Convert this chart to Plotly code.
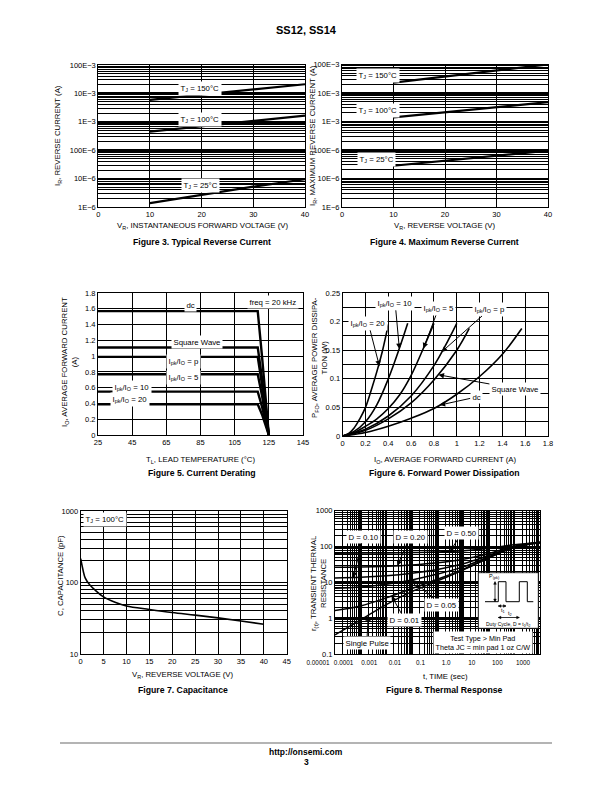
import plotly.graph_objects as go

W, H = 612, 792
FONT = "Liberation Sans, Arial, Helvetica, sans-serif"
OFF = 8  # page body margin of the browser


def fx(x):
    return (x - OFF) / W


def fy(y):
    return 1 - (y - OFF) / H


# ---------------- data ----------------
# Figure 3 - typical reverse current
f3_vr = [10, 20, 30, 40]
f3_ir_150 = [5.9e-3, 9.0e-3, 13.8e-3, 21e-3]
f3_ir_100 = [0.45e-3, 0.69e-3, 1.07e-3, 1.65e-3]
f3_ir_25 = [1.36e-6, 2.7e-6, 5.2e-6, 9.5e-6]
ir_tickvals = [1e-6, 1e-5, 1e-4, 1e-3, 1e-2, 1e-1]
ir_ticktext = ["1E−6", "10E−6", "100E−6", "1E−3", "10E−3", "100E−3"]
vr_ticks = [0, 10, 20, 30, 40]

# Figure 4 - maximum reverse current
f4_vr = [10, 20, 30, 40]
f4_ir_150 = [23e-3, 38e-3, 62e-3, 100e-3]
f4_ir_100 = [1.4e-3, 2.1e-3, 3.2e-3, 4.8e-3]
f4_ir_25 = [28e-6, 42e-6, 63e-6, 95e-6]

# Figure 5 - current derating
f5_tl = [25, 118.5, 121, 123, 125]
f5_dc = [1.57, 1.57, 1.0, 0.5, 0]
f5_square = [1.11, 1.11, 0.72, 0.37, 0]
f5_pi = [0.99, 0.99, 0.64, 0.33, 0]
f5_r5 = [0.77, 0.77, 0.50, 0.26, 0]
f5_r10 = [0.55, 0.55, 0.36, 0.19, 0]
f5_r20 = [0.39, 0.39, 0.26, 0.13, 0]
f5_xticks = [25, 45, 65, 85, 105, 125, 145]
f5_yticks = [0, 0.2, 0.4, 0.6, 0.8, 1, 1.2, 1.4, 1.6, 1.8]
f5_yticktext = ["0", "0.2", "0.4", "0.6", "0.8", "1", "1.2", "1.4", "1.6", "1.8"]

# Figure 6 - forward power dissipation
f6_io_20 = [0, 0.05, 0.1, 0.15, 0.2, 0.25, 0.3, 0.35, 0.4]
f6_p_20 = [0, 0.004, 0.014, 0.03, 0.05, 0.08, 0.113, 0.15, 0.195]
f6_io_10 = [0, 0.1, 0.2, 0.3, 0.4, 0.5, 0.57]
f6_p_10 = [0, 0.008, 0.025, 0.055, 0.1, 0.155, 0.197]
f6_io_5 = [0, 0.1, 0.2, 0.3, 0.4, 0.5, 0.6, 0.7, 0.8]
f6_p_5 = [0, 0.006, 0.017, 0.03, 0.048, 0.072, 0.106, 0.15, 0.197]
f6_io_pi = [0, 0.2, 0.4, 0.6, 0.8, 0.9, 1.0]
f6_p_pi = [0, 0.012, 0.035, 0.07, 0.123, 0.158, 0.197]
f6_io_sq = [0, 0.2, 0.4, 0.6, 0.8, 1.0, 1.11]
f6_p_sq = [0, 0.01, 0.03, 0.058, 0.098, 0.15, 0.188]
f6_io_dc = [0, 0.2, 0.4, 0.6, 0.8, 1.0, 1.2, 1.4, 1.57]
f6_p_dc = [0, 0.006, 0.017, 0.031, 0.048, 0.073, 0.104, 0.143, 0.188]
f6_xticks = [0, 0.2, 0.4, 0.6, 0.8, 1, 1.2, 1.4, 1.6, 1.8]
f6_xticktext = ["0", "0.2", "0.4", "0.6", "0.8", "1", "1.2", "1.4", "1.6", "1.8"]
f6_yticks = [0, 0.05, 0.1, 0.15, 0.2, 0.25]
f6_yticktext = ["0", "0.05", "0.1", "0.15", "0.2", "0.25"]

# Figure 7 - capacitance
f7_vr = [0, 0.5, 1, 2, 3, 5, 7.5, 10, 15, 20, 25, 30, 35, 40]
f7_c = [215, 150, 115, 92, 80, 63, 53, 47, 42, 38, 35, 32, 29, 26]
f7_xticks = [0, 5, 10, 15, 20, 25, 30, 35, 40, 45]
f7_yticks = [10, 100, 1000]

# Figure 8 - thermal response
f8_t = [1e-5, 1e-4, 1e-3, 1e-2, 1e-1, 1, 10, 100, 1000]
f8_single = [0.34, 0.9, 2.4, 5.5, 11, 22, 48, 95, 128]
f8_d01 = [1.64, 2.2, 3.7, 6.7, 12.2, 23, 49, 95, 128]
f8_d05 = [6.8, 7.4, 8.8, 11.7, 17, 27, 52, 97, 129]
f8_d10 = [13.3, 13.8, 15.2, 18, 23, 33, 56, 99, 130]
f8_d20 = [26.3, 26.7, 28, 30.4, 35, 44, 64, 102, 131]
f8_d50 = [65, 65.5, 66, 68, 70.5, 76, 89, 112, 132]
f8_xticks = [1e-5, 1e-4, 1e-3, 1e-2, 1e-1, 1, 10, 100, 1000]
f8_xticktext = ["0.00001", "0.0001", "0.001", "0.01", "0.1", "1.0", "10", "100", "1000"]
f8_yticks = [0.1, 1, 10, 100, 1000]
f8_yticktext = ["0.1", "1", "10", "100", "1000"]


def log_minor(lo, hi):
    return [m * 10.0 ** e for e in range(lo, hi) for m in range(2, 10)]


fig = go.Figure()


def add_line(x, y, n, width=2.0, shape="linear"):
    xa = "x" if n == 1 else "x%d" % n
    ya = "y" if n == 1 else "y%d" % n
    fig.add_trace(go.Scatter(x=x, y=y, mode="lines", xaxis=xa, yaxis=ya,
                             line=dict(color="black", width=width, shape=shape),
                             hoverinfo="skip", showlegend=False))


for ys in (f3_ir_150, f3_ir_100, f3_ir_25):
    add_line(f3_vr, ys, 1, 2.2)
for ys in (f4_ir_150, f4_ir_100, f4_ir_25):
    add_line(f4_vr, ys, 2, 2.2)
for ys in (f5_dc, f5_square, f5_pi, f5_r5, f5_r10, f5_r20):
    add_line(f5_tl, ys, 3, 2.4)
for xs, ys in ((f6_io_20, f6_p_20), (f6_io_10, f6_p_10), (f6_io_5, f6_p_5),
               (f6_io_pi, f6_p_pi), (f6_io_sq, f6_p_sq), (f6_io_dc, f6_p_dc)):
    add_line(xs, ys, 4, 1.6, "spline")
add_line(f7_vr, f7_c, 5, 1.6, "spline")
for ys in (f8_single, f8_d01, f8_d05, f8_d10, f8_d20, f8_d50):
    add_line(f8_t, ys, 6, 1.5, "spline")


def axis(**kw):
    d = dict(showline=True, linecolor="black", linewidth=1, mirror=True, ticks="",
             showgrid=True, gridcolor="black", gridwidth=1, zeroline=False,
             tickfont=dict(family=FONT, size=7.5, color="black"), fixedrange=True,
             layer="below traces", automargin=False, tickangle=0)
    d.update(kw)
    return d


def minor_log(lo, hi, w=1):
    return dict(tickmode="array", tickvals=log_minor(lo, hi), showgrid=True,
                gridcolor="black", gridwidth=w, ticks="")


fig.update_layout(
    width=W, height=H, margin=dict(l=0, r=0, t=0, b=0, pad=0, autoexpand=False),
    paper_bgcolor="white", plot_bgcolor="white", showlegend=False,
    font=dict(family=FONT, color="black"),
    xaxis=axis(domain=[fx(98.3), fx(305)], range=[0, 40], tickmode="array",
               tickvals=vr_ticks, anchor="y"),
    yaxis=axis(domain=[fy(207), fy(65)], type="log", range=[-6, -1], tickmode="array",
               tickvals=ir_tickvals, ticktext=ir_ticktext, gridwidth=2.2,
               minor=minor_log(-6, -1), anchor="x"),
    xaxis2=axis(domain=[fx(342), fx(548)], range=[0, 40], tickmode="array",
                tickvals=vr_ticks, anchor="y2"),
    yaxis2=axis(domain=[fy(207), fy(64.5)], type="log", range=[-6, -1], tickmode="array",
                tickvals=ir_tickvals, ticktext=ir_ticktext, gridwidth=2.2,
                minor=minor_log(-6, -1), anchor="x2"),
    xaxis3=axis(domain=[fx(98), fx(303)], range=[25, 145], tickmode="array",
                tickvals=f5_xticks, anchor="y3"),
    yaxis3=axis(domain=[fy(435), fy(293)], range=[0, 1.8], tickmode="array",
                tickvals=f5_yticks, ticktext=f5_yticktext, anchor="x3"),
    xaxis4=axis(domain=[fx(342.7), fx(548)], range=[0, 1.8], tickmode="array",
                tickvals=f6_xticks, ticktext=f6_xticktext, anchor="y4"),
    yaxis4=axis(domain=[fy(436), fy(293)], range=[0, 0.25], tickmode="array",
                tickvals=f6_yticks, ticktext=f6_yticktext, anchor="x4",
                minor=dict(tick0=0, dtick=0.025, showgrid=True, gridcolor="black",
                           gridwidth=1, ticks="")),
    xaxis5=axis(domain=[fx(80.7), fx(286.7)], range=[0, 45], tickmode="array",
                tickvals=f7_xticks, anchor="y5"),
    yaxis5=axis(domain=[fy(654), fy(511)], type="log", range=[1, 3], tickmode="array",
                tickvals=f7_yticks, anchor="x5", minor=minor_log(1, 3)),
    xaxis6=axis(domain=[fx(335), fx(540)], type="log", range=[-5, 3], tickmode="array",
                tickvals=f8_xticks, ticktext=f8_xticktext, gridwidth=2.2,
                tickfont=dict(family=FONT, size=6.4, color="black"),
                ticklabelshift=-17, ticklabelstandoff=2,
                minor=minor_log(-5, 3), anchor="y6"),
    yaxis6=axis(domain=[fy(654), fy(510.7)], type="log", range=[-1, 3], tickmode="array",
                tickvals=f8_yticks, ticktext=f8_yticktext, gridwidth=2.2,
                minor=minor_log(-1, 3), anchor="x6"),
)

ann = []
shapes = []


def ptext(text, x, y, size=7.8, bold=False, angle=0):
    ann.append(dict(text=("<b>%s</b>" % text) if bold else text, x=fx(x), y=fy(y),
                    xref="paper", yref="paper", showarrow=False, textangle=angle,
                    xanchor="center", yanchor="middle",
                    font=dict(family=FONT, size=size, color="black")))


def dlabel(text, n, x, y, size=7.8, bg="white", hx=None, hy=None):
    xr = "x" if n == 1 else "x%d" % n
    yr = "y" if n == 1 else "y%d" % n
    a = dict(text=text, xref=xr, yref=yr, font=dict(family=FONT, size=size, color="black"),
             bgcolor=bg, borderpad=1.5, xanchor="center", yanchor="middle")
    if hx is None:
        a.update(x=x, y=y, showarrow=False)
    else:
        a.update(x=hx, y=hy, ax=x, ay=y, axref=xr, ayref=yr, showarrow=True,
                 arrowhead=2, arrowsize=1.1, arrowwidth=1, arrowcolor="black", standoff=0)
    ann.append(a)


# header / footer
ptext("SS12, SS14", 306, 30, size=11, bold=True)
ptext("http://onsemi.com", 306, 752, size=8.5, bold=True)
ptext("3", 306, 762, size=8.5, bold=True)
shapes.append(dict(type="line", xref="paper", yref="paper", x0=fx(60), x1=fx(552),
                   y0=fy(743), y1=fy(743), line=dict(color="#b4b4b4", width=2)))

# captions
ptext("Figure 3. Typical Reverse Current", 202, 242, size=8.7, bold=True)
ptext("Figure 4. Maximum Reverse Current", 444, 242, size=8.7, bold=True)
ptext("Figure 5. Current Derating", 202, 473, size=8.7, bold=True)
ptext("Figure 6. Forward Power Dissipation", 444, 473, size=8.7, bold=True)
ptext("Figure 7. Capacitance", 183, 690, size=8.7, bold=True)
ptext("Figure 8. Thermal Response", 444, 690, size=8.7, bold=True)

# axis titles
ptext("I<sub>R</sub>, REVERSE CURRENT (A)", 58, 136, angle=-90)
ptext("V<sub>R</sub>, INSTANTANEOUS FORWARD VOLTAGE (V)", 202, 226)
ptext("I<sub>R</sub>, MAXIMUM REVERSE CURRENT (A)", 313, 136, angle=-90)
ptext("V<sub>R</sub>, REVERSE VOLTAGE (V)", 445, 226)
ptext("I<sub>O</sub>, AVERAGE FORWARD CURRENT<br>(A)", 69, 362, angle=-90)
ptext("T<sub>L</sub>, LEAD TEMPERATURE (°C)", 200, 460)
ptext("P<sub>FO</sub>, AVERAGE POWER DISSIPA-<br>TION (W)", 319, 358, angle=-90)
ptext("I<sub>O</sub>, AVERAGE FORWARD CURRENT (A)", 445, 460)
ptext("C, CAPACITANCE (pF)", 60, 576, angle=-90)
ptext("V<sub>R</sub>, REVERSE VOLTAGE (V)", 183, 675)
ptext("r<sub>(t)</sub>, TRANSIENT THERMAL<br>RESISTANCE", 318, 583, angle=-90)
ptext("t, TIME (sec)", 445, 676)

# figure 3 labels
dlabel("T<sub>J</sub> = 150°C", 1, 19.7, -1.82)
dlabel("T<sub>J</sub> = 100°C", 1, 19.7, -2.91)
dlabel("T<sub>J</sub> = 25°C", 1, 19.7, -5.26)
# figure 4 labels
dlabel("T<sub>J</sub> = 150°C", 2, 7.0, -1.37)
dlabel("T<sub>J</sub> = 100°C", 2, 7.0, -2.63)
dlabel("T<sub>J</sub> = 25°C", 2, 6.7, -4.33)
# figure 5 labels
dlabel("dc", 3, 79, 1.648)
dlabel("freq = 20 kHz", 3, 127.6, 1.69)
dlabel("Square Wave", 3, 82.8, 1.175)
dlabel("I<sub>pk</sub>/I<sub>O</sub> = p", 3, 75, 0.93)
dlabel("I<sub>pk</sub>/I<sub>O</sub> = 5", 3, 75, 0.726)
dlabel("I<sub>pk</sub>/I<sub>O</sub> = 10", 3, 44.7, 0.604)
dlabel("I<sub>pk</sub>/I<sub>O</sub> = 20", 3, 43.7, 0.452)
# figure 6 labels with arrows
dlabel("I<sub>pk</sub>/I<sub>O</sub> = 20", 4, 0.225, 0.197, hx=0.322, hy=0.122)
dlabel("I<sub>pk</sub>/I<sub>O</sub> = 10", 4, 0.46, 0.232, hx=0.497, hy=0.152)
dlabel("I<sub>pk</sub>/I<sub>O</sub> = 5", 4, 0.84, 0.223, hx=0.708, hy=0.153)
dlabel("I<sub>pk</sub>/I<sub>O</sub> = p", 4, 1.29, 0.222, hx=0.868, hy=0.147)
dlabel("Square Wave", 4, 1.51, 0.083, hx=0.84, hy=0.107)
dlabel("dc", 4, 1.17, 0.068, hx=0.85, hy=0.054)
# figure 7 label
dlabel("T<sub>J</sub> = 100°C", 5, 5.3, 2.88)
# figure 8 labels
dlabel("D = 0.10", 6, -3.9, 2.27, hx=-4.29, hy=1.13)
dlabel("D = 0.20", 6, -2.07, 2.27, hx=-2.57, hy=1.46)
dlabel("D = 0.50", 6, -0.06, 2.37, hx=-0.51, hy=1.86)
dlabel("D = 0.05", 6, -0.84, 0.37, hx=-2.0, hy=1.07)
dlabel("D = 0.01", 6, -2.27, -0.05, hx=-2.79, hy=0.62)
dlabel("Single Pulse", 6, -3.76, -0.68, hx=-3.7, hy=0.08)
dlabel("Test Type &gt; Min Pad<br>Theta JC = min pad 1 oz C/W", 6, 0.79, -0.68, size=7.2)

# figure 8 inset diagram (paper coordinates)
shapes.append(dict(type="rect", xref="paper", yref="paper", x0=fx(478.3), x1=fx(538.3),
                   y0=fy(628.3), y1=fy(572.7), fillcolor="white",
                   line=dict(color="black", width=0.8), layer="above"))
pulse = [(485, 601.7), (498.3, 601.7), (498.3, 581.7), (506, 581.7), (506, 601.7),
         (519.3, 601.7), (519.3, 581.7), (527.3, 581.7), (527.3, 601.7), (533.3, 601.7)]
path = "M " + " L ".join("%f,%f" % (fx(a), fy(b)) for a, b in pulse)
shapes.append(dict(type="path", xref="paper", yref="paper", path=path,
                   line=dict(color="black", width=1), layer="above"))


def arrow(x0, y0, x1, y1, both=True):
    shapes.append(dict(type="line", xref="paper", yref="paper", x0=fx(x0), y0=fy(y0),
                       x1=fx(x1), y1=fy(y1), line=dict(color="black", width=0.8),
                       layer="above"))

    def head(tx, ty, dx, dy):
        s = 2.6
        px_, py_ = -dy, dx
        pts = [(tx, ty), (tx - dx * s + px_ * s * 0.5, ty - dy * s + py_ * s * 0.5),
               (tx - dx * s - px_ * s * 0.5, ty - dy * s - py_ * s * 0.5)]
        shapes.append(dict(type="path", xref="paper", yref="paper",
                           path="M " + " L ".join("%f,%f" % (fx(a), fy(b)) for a, b in pts) + " Z",
                           fillcolor="black", line=dict(color="black", width=0.5),
                           layer="above"))
    L = ((x1 - x0) ** 2 + (y1 - y0) ** 2) ** 0.5
    ux, uy = (x1 - x0) / L, (y1 - y0) / L
    head(x1, y1, ux, uy)
    if both:
        head(x0, y0, -ux, -uy)


arrow(495, 581.7, 495, 601.7)
arrow(498.3, 606, 506, 606)
arrow(498.3, 617.5, 519.3, 617.5)


def ptext_small(text, x, y, size):
    ann.append(dict(text=text, x=fx(x), y=fy(y), xref="paper", yref="paper",
                    showarrow=False, xanchor="center", yanchor="middle",
                    font=dict(family=FONT, size=size, color="black")))


ptext_small("P<sub>(pk)</sub>", 494, 576.5, 5.5)
ptext_small("t<sub>1</sub>", 502.5, 610, 5.5)
ptext_small("t<sub>2</sub>", 509.5, 613.5, 5.5)
ptext_small("Duty Cycle, D = t<sub>1</sub>/t<sub>2</sub>", 508.3, 624.5, 5)

fig.update_layout(annotations=ann, shapes=shapes)
fig.write_html("out.html")
